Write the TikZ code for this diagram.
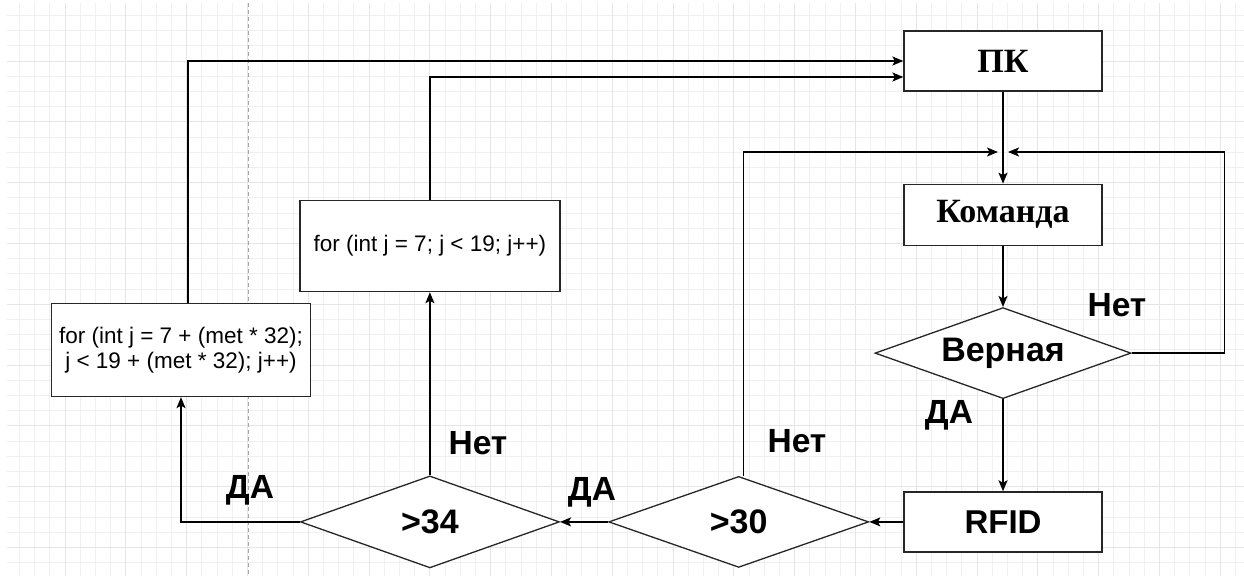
\documentclass[tikz,border=0pt]{standalone}
\usepackage{fontspec}
\setmainfont{Liberation Serif}
\setsansfont{Liberation Sans}
\usetikzlibrary{shapes,arrows.meta,positioning}

\begin{document}
\begin{tikzpicture}[x=1pt,y=-1pt,line width=1.3pt,
    >={Stealth[length=11pt,width=9pt,inset=2.5pt]},
    minorline/.style={draw=black!6,line width=0.9pt},
    majorline/.style={draw=black!10,line width=1pt},
    block/.style={rectangle,draw=black!85,fill=white,minimum width=198pt,minimum height=60pt,
      font=\fontsize{34}{40}\selectfont\bfseries},
    cond/.style={diamond,draw=black!85,fill=white,inner sep=0pt,shape aspect=2.8,
      minimum width=256pt,minimum height=91pt,font=\sffamily\fontsize{34}{40}\selectfont\bfseries},
    code/.style={rectangle,draw=black!85,fill=white,minimum width=259pt,minimum height=92pt,
      align=center,font=\sffamily\fontsize{22.5}{25}\selectfont},
    lbl/.style={font=\sffamily\fontsize{33.5}{40}\selectfont\bfseries}]

  \useasboundingbox (0,0) rectangle (1244,576);

  % background grid
  \foreach \k in {1,...,81} \draw[minorline] ({4.2+15.2*\k},3) -- ({4.2+15.2*\k},576);
  \foreach \k in {1,...,37} \draw[minorline] (7,{0.2+15.2*\k}) -- (1244,{0.2+15.2*\k});
  \foreach \k in {0,...,19} \draw[majorline] ({65+60.8*\k},3) -- ({65+60.8*\k},576);
  \foreach \k in {0,...,8} \draw[majorline] (7,{61+60.8*\k}) -- (1244,{61+60.8*\k});
  \draw[draw=black!35,line width=1pt,dash pattern=on 4pt off 3pt] (248,3) -- (248,576);

  % right column
  \node[block] (pk) at (1003,61) {ПК};
  \node[block,minimum height=61pt] (cmd) [below=92pt of pk] {Команда};
  \node[cond] (ver) [below=61pt of cmd] {Верная};
  \node[block,font=\sffamily\fontsize{33}{40}\selectfont\bfseries] (rfid) [below=92pt of ver] {RFID};

  % bottom row
  \node[cond,minimum width=260pt] (gt30) [left=34pt of rfid] {>30};
  \node[cond,minimum width=259pt,minimum height=92pt] (gt34) [left=48pt of gt30] {>34};

  % loops
  \node[code,minimum width=260pt,minimum height=91pt] (forA) [above=183pt of gt34] {for (int j = 7; j < 19; j++)};
  \node[code,minimum height=93pt] (forB) at (181,350) {for (int j = 7 + (met * 32);\\ j < 19 + (met * 32); j++)};

  % labels
  \node[lbl] (verNo) at (1117,305) {Нет};
  \node[lbl] (verYes) at (949,415) {ДА};
  \node[lbl] (gt30No) at (797,441) {Нет};
  \node[lbl] (gt30Yes) at (592,492) {ДА};
  \node[lbl] (gt34No) at (478,443) {Нет};
  \node[lbl] (gt34Yes) at (250,490) {ДА};

  \coordinate (joinL) at (998,152);
  \coordinate (joinR) at (1008,152);

  \path[->] (pk) edge (cmd);
  \path[->] (cmd) edge (ver);
  \path[->] (ver) edge (rfid);
  \draw[->] (ver.east) -- ++(93,0) |- (joinR);
  \draw[->] ([xshift=5pt]gt30.north) |- (joinL);
  \path[->] (rfid) edge (gt30.east);
  \path[->] (gt30.west) edge (gt34.east);
  \path[->] (gt34.north) edge (forA.south);
  \draw[->] (gt34.west) -| (forB.south);
  \draw[->] (forA.north) |- ([yshift=-16pt]pk.west);
  \draw[->] ([xshift=7pt]forB.north) |- (pk.west);
\end{tikzpicture}
\end{document}
